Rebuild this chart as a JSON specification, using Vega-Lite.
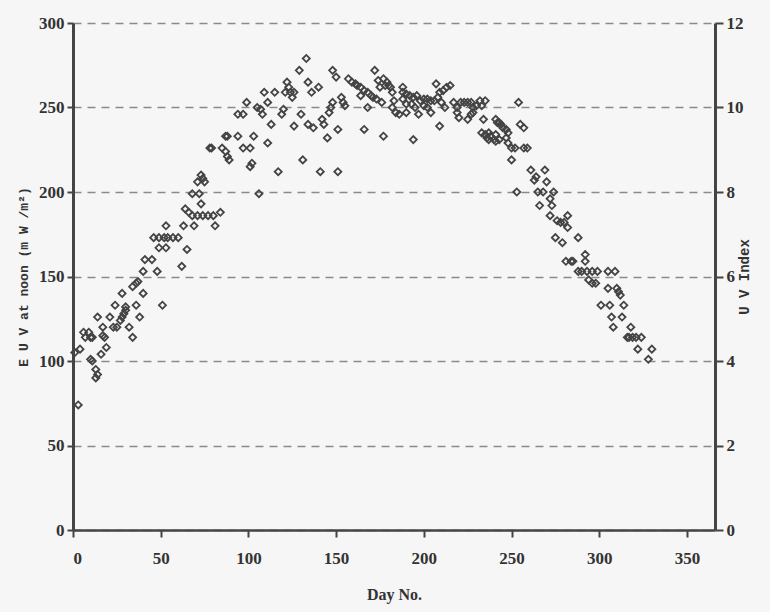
{
  "$schema": "https://vega.github.io/schema/vega-lite/v6.json",
  "width": 642,
  "height": 507,
  "autosize": {"type": "none"},
  "padding": {"left": 73, "top": 23, "right": 55, "bottom": 82},
  "background": "#f6f6f6",
  "config": {
    "view": {"stroke": null},
    "axis": {"labelFont": "Liberation Serif", "titleFont": "Liberation Serif", "labelFontWeight": "bold", "titleFontWeight": "bold", "labelColor": "#333", "titleColor": "#333", "domainColor": "#444", "tickColor": "#444"}
  },
  "layer": [
    {
      "data": {"values": [
        {"d":1,"v":105},{"d":3,"v":74},{"d":4,"v":107},{"d":6,"v":117},{"d":7,"v":114},{"d":9,"v":117},{"d":10,"v":114},{"d":11,"v":114},{"d":10,"v":101},{"d":11,"v":100},{"d":13,"v":95},{"d":14,"v":92},{"d":13,"v":90},{"d":16,"v":104},{"d":19,"v":108},{"d":14,"v":126},{"d":17,"v":120},{"d":17,"v":115},{"d":18,"v":114},{"d":21,"v":126},{"d":23,"v":120},{"d":25,"v":120},{"d":27,"v":124},{"d":28,"v":126},{"d":29,"v":128},{"d":24,"v":133},{"d":28,"v":140},{"d":30,"v":132},{"d":30,"v":130},{"d":32,"v":120},{"d":34,"v":114},{"d":36,"v":133},{"d":38,"v":126},{"d":34,"v":144},{"d":36,"v":146},{"d":37,"v":147},{"d":40,"v":140},{"d":40,"v":153},{"d":41,"v":160},{"d":45,"v":160},{"d":48,"v":153},{"d":51,"v":133},{"d":46,"v":173},{"d":49,"v":173},{"d":52,"v":173},{"d":54,"v":173},{"d":57,"v":173},{"d":60,"v":173},{"d":49,"v":167},{"d":53,"v":167},{"d":53,"v":180},{"d":63,"v":180},{"d":62,"v":156},
        {"d":65,"v":166},{"d":69,"v":180},{"d":81,"v":180},{"d":64,"v":190},{"d":66,"v":188},{"d":68,"v":186},{"d":71,"v":186},{"d":74,"v":186},{"d":77,"v":186},{"d":80,"v":186},{"d":84,"v":188},{"d":73,"v":193},{"d":68,"v":199},{"d":72,"v":199},{"d":106,"v":199},{"d":71,"v":206},{"d":74,"v":208},{"d":75,"v":206},{"d":73,"v":210},{"d":78,"v":226},{"d":79,"v":226},{"d":85,"v":226},{"d":87,"v":224},{"d":88,"v":221},{"d":89,"v":219},{"d":97,"v":226},{"d":101,"v":226},{"d":101,"v":215},{"d":87,"v":233},{"d":88,"v":233},{"d":94,"v":233},{"d":103,"v":233},{"d":111,"v":229},{"d":94,"v":246},{"d":97,"v":246},{"d":99,"v":253},{"d":105,"v":250},{"d":107,"v":249},{"d":108,"v":246},
        {"d":117,"v":212},{"d":131,"v":219},{"d":141,"v":212},{"d":151,"v":212},{"d":102,"v":217},{"d":113,"v":240},{"d":126,"v":239},{"d":134,"v":240},{"d":137,"v":238},{"d":142,"v":243},{"d":143,"v":240},{"d":145,"v":232},{"d":151,"v":237},{"d":146,"v":247},{"d":147,"v":250},{"d":148,"v":253},{"d":119,"v":246},{"d":120,"v":249},{"d":130,"v":246},{"d":111,"v":253},{"d":109,"v":259},{"d":115,"v":259},{"d":121,"v":259},{"d":124,"v":259},{"d":126,"v":259},{"d":123,"v":262},{"d":122,"v":265},{"d":125,"v":256},{"d":136,"v":259},{"d":140,"v":262},{"d":134,"v":265},{"d":129,"v":272},{"d":133,"v":279},{"d":148,"v":272},{"d":150,"v":268},{"d":153,"v":256},{"d":154,"v":253},{"d":155,"v":251},{"d":157,"v":267},{"d":159,"v":265},{"d":161,"v":264},{"d":162,"v":263},{"d":164,"v":262},{"d":166,"v":260},{"d":168,"v":259},{"d":170,"v":257},{"d":171,"v":256},{"d":173,"v":255},{"d":172,"v":272},{"d":164,"v":257},{"d":168,"v":250},{"d":166,"v":237},{"d":174,"v":266},
        {"d":177,"v":267},{"d":179,"v":265},{"d":180,"v":263},{"d":181,"v":262},{"d":182,"v":259},{"d":178,"v":263},{"d":175,"v":262},{"d":176,"v":253},{"d":183,"v":254},{"d":188,"v":262},{"d":188,"v":259},{"d":190,"v":258},{"d":192,"v":257},{"d":194,"v":256},{"d":196,"v":257},{"d":188,"v":255},{"d":190,"v":252},{"d":182,"v":250},{"d":184,"v":247},{"d":186,"v":246},{"d":190,"v":247},{"d":193,"v":252},{"d":195,"v":250},{"d":197,"v":246},{"d":198,"v":254},{"d":200,"v":255},{"d":202,"v":255},{"d":204,"v":254},{"d":200,"v":251},{"d":202,"v":250},{"d":204,"v":247},{"d":207,"v":264},{"d":209,"v":259},{"d":211,"v":260},{"d":213,"v":262},{"d":215,"v":263},{"d":208,"v":256},{"d":206,"v":254},{"d":210,"v":253},{"d":212,"v":250},{"d":209,"v":239},{"d":177,"v":233},{"d":194,"v":231},{"d":217,"v":253},{"d":219,"v":250},{"d":221,"v":253},{"d":223,"v":253},{"d":225,"v":253},{"d":227,"v":253},{"d":228,"v":250},{"d":230,"v":251},{"d":232,"v":254},{"d":235,"v":254},{"d":219,"v":247},{"d":220,"v":244},{"d":225,"v":243},{"d":227,"v":246},{"d":228,"v":247},{"d":234,"v":243},{"d":233,"v":235},{"d":235,"v":234},{"d":237,"v":235},{"d":238,"v":233},{"d":240,"v":231},{"d":237,"v":231},{"d":241,"v":234},{"d":242,"v":241},
        {"d":233,"v":251},{"d":254,"v":253},{"d":241,"v":243},{"d":243,"v":241},{"d":244,"v":240},{"d":245,"v":238},{"d":247,"v":237},{"d":248,"v":235},{"d":236,"v":232},{"d":241,"v":230},{"d":243,"v":231},{"d":247,"v":232},{"d":248,"v":229},{"d":250,"v":226},{"d":252,"v":226},{"d":250,"v":219},{"d":255,"v":240},{"d":257,"v":238},{"d":257,"v":226},{"d":259,"v":226},{"d":261,"v":213},{"d":269,"v":213},{"d":263,"v":207},{"d":264,"v":209},{"d":270,"v":206},{"d":253,"v":200},{"d":265,"v":200},{"d":268,"v":200},{"d":274,"v":200},{"d":266,"v":192},{"d":272,"v":196},{"d":273,"v":192},{"d":272,"v":186},{"d":282,"v":186},{"d":276,"v":183},{"d":278,"v":182},{"d":280,"v":182},{"d":282,"v":179},{"d":275,"v":173},{"d":279,"v":170},{"d":288,"v":173},
        {"d":281,"v":159},{"d":284,"v":159},{"d":285,"v":159},{"d":292,"v":163},{"d":292,"v":159},{"d":288,"v":153},{"d":290,"v":153},{"d":293,"v":153},{"d":296,"v":153},{"d":299,"v":153},{"d":305,"v":153},{"d":309,"v":153},{"d":294,"v":148},{"d":296,"v":146},{"d":298,"v":146},{"d":305,"v":143},{"d":310,"v":143},{"d":311,"v":141},{"d":312,"v":139},{"d":301,"v":133},{"d":306,"v":133},{"d":314,"v":133},{"d":307,"v":126},{"d":313,"v":126},{"d":308,"v":120},{"d":316,"v":114},{"d":318,"v":120},{"d":317,"v":114},{"d":319,"v":114},{"d":321,"v":114},{"d":324,"v":114},{"d":322,"v":107},{"d":330,"v":107},{"d":328,"v":101}
      ]},
      "mark": {"type": "point", "shape": "diamond", "filled": false, "size": 50, "stroke": "#444", "strokeWidth": 1.8, "opacity": 1},
      "encoding": {
        "x": {"field": "d", "type": "quantitative", "scale": {"domain": [0, 366], "nice": false, "zero": false},
          "axis": {"values": [0,50,100,150,200,250,300,350], "title": "Day No.", "titleFontSize": 16, "labelFontSize": 17, "domainWidth": 2.5, "tickSize": 7, "tickWidth": 2, "labelPadding": 13, "titlePadding": 20, "grid": false}},
        "y": {"field": "v", "type": "quantitative", "scale": {"domain": [0, 300], "nice": false},
          "axis": {"values": [0,50,100,150,200,250,300], "title": "E U V  at  noon  (m W /m²)", "titleFont": "Liberation Mono", "titleFontSize": 13, "labelFontSize": 17, "domainWidth": 3, "tickSize": 6, "tickWidth": 2, "labelPadding": 3, "titlePadding": 8, "grid": true, "gridDash": [8, 6], "gridColor": "#8a8a8a", "gridWidth": 1.3}}
      }
    },
    {
      "data": {"values": [{"uv": 0}, {"uv": 12}]},
      "mark": {"type": "point", "opacity": 0},
      "encoding": {
        "y": {"field": "uv", "type": "quantitative", "scale": {"domain": [0, 12], "nice": false},
          "axis": {"orient": "right", "values": [0,2,4,6,8,10,12], "title": "U V Index", "titleFont": "Liberation Mono", "titleFontSize": 14, "titleAngle": 270, "labelFontSize": 17, "domainWidth": 3, "tickSize": 8, "tickWidth": 2, "labelPadding": 3, "titlePadding": 8, "grid": false}}
      }
    }
  ],
  "resolve": {"scale": {"y": "independent"}}
}
